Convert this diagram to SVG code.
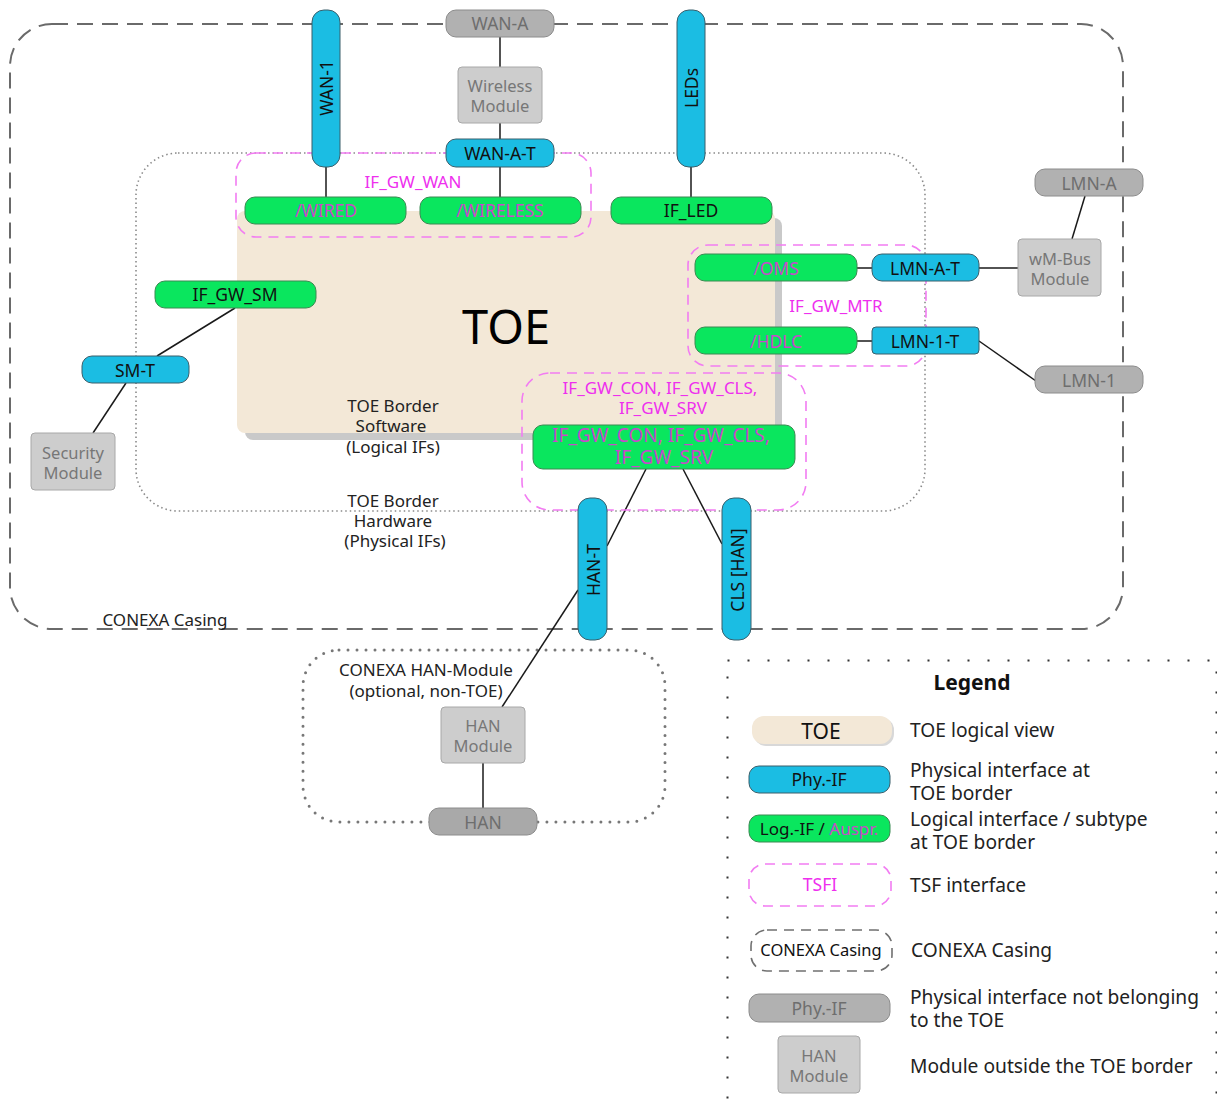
<svg xmlns="http://www.w3.org/2000/svg" width="1217" height="1111" viewBox="0 0 1217 1111">
<style>
text{font-family:"Noto Sans","Open Sans","DejaVu Sans",sans-serif;}
.t{font-size:17.5px;fill:#111;text-anchor:middle;dominant-baseline:central;}
.m{font-size:16.5px;fill:#777;text-anchor:middle;dominant-baseline:central;}
.tl{font-size:19.2px;fill:#222;dominant-baseline:central;}
.lbl{font-size:17px;fill:#222;text-anchor:middle;dominant-baseline:central;}
.mg{fill:#ee2fee;}
.mgg{fill:#c948cc;}
.gt{fill:#6e6e6e;}
.phy{fill:#1bbde3;stroke:#3b5f6b;stroke-width:1;}
.log{fill:#0ae65e;stroke:#3a8a52;stroke-width:1;}
.ext{fill:#b1b1b1;stroke:#8c8c8c;stroke-width:1;}
.mod{fill:#cdcdcd;stroke:#a8a8a8;stroke-width:1;}
.tsfi{fill:none;stroke:#f27cf2;stroke-width:1.6;stroke-dasharray:10,7;}
.case{fill:none;stroke:#6a6a6a;stroke-width:2;stroke-dasharray:16,9;}
.conn line{stroke:#1a1a1a;stroke-width:1.5;}
</style>

<!-- casing -->
<g id="casing">
<rect x="10" y="24" width="1113" height="605" rx="42" class="case"/>
<text x="165" y="619" class="lbl">CONEXA Casing</text>
</g>

<!-- TOE border -->
<g id="toe-border">
<rect x="136" y="153" width="789" height="358" rx="42" fill="none" stroke="#8a8a8a" stroke-width="1.6" stroke-dasharray="1.5,3"/>
</g>

<!-- TOE -->
<g id="toe">
<rect x="245" y="218" width="537" height="222" rx="8" fill="#c9c9c9"/>
<rect x="237" y="211" width="538" height="222" rx="8" fill="#f3e8d7"/>
<text x="506" y="326" class="t" style="font-size:47px;fill:#000">TOE</text>
</g>

<g id="toe-border-labels">
<text x="393" y="405" class="lbl">TOE Border</text>
<text x="391" y="425" class="lbl">Software</text>
<text x="393" y="446" class="lbl">(Logical IFs)</text>
<text x="393" y="500" class="lbl">TOE Border</text>
<text x="393" y="520" class="lbl">Hardware</text>
<text x="395" y="540" class="lbl">(Physical IFs)</text>
</g>

<!-- HAN module container -->
<g id="han-container">
<rect x="303" y="650" width="362" height="172" rx="36" fill="none" stroke="#777" stroke-width="3" stroke-linecap="round" stroke-dasharray="0,9"/>
<text x="426" y="669" class="lbl">CONEXA HAN-Module</text>
<text x="426" y="690" class="lbl">(optional, non-TOE)</text>
</g>

<!-- connectors -->
<g id="connectors" class="conn">
<line x1="500" y1="37" x2="500" y2="67"/>
<line x1="500" y1="123" x2="500" y2="139"/>
<line x1="500" y1="167" x2="500" y2="197"/>
<line x1="326" y1="167" x2="326" y2="197"/>
<line x1="691" y1="167" x2="691" y2="197"/>
<line x1="235" y1="308" x2="157" y2="356"/>
<line x1="126" y1="383" x2="93" y2="433"/>
<line x1="857" y1="268" x2="872" y2="268"/>
<line x1="979" y1="268" x2="1019" y2="268"/>
<line x1="1072" y1="239" x2="1085" y2="196"/>
<line x1="857" y1="341" x2="872" y2="341"/>
<line x1="979" y1="341" x2="1036" y2="381"/>
<line x1="646" y1="469" x2="607" y2="546"/>
<line x1="578" y1="590" x2="502" y2="707"/>
<line x1="683" y1="469" x2="722" y2="544"/>
<line x1="483" y1="763" x2="483" y2="808"/>
</g>

<!-- TSFI groups -->
<g id="if-gw-wan">
<rect x="236" y="153" width="355" height="84" rx="20" class="tsfi"/>
<text x="413" y="181" class="lbl mg">IF_GW_WAN</text>
</g>
<g id="if-gw-mtr">
<rect x="688" y="245" width="238" height="121" rx="20" class="tsfi"/>
<text x="836" y="305" class="lbl mg">IF_GW_MTR</text>
</g>
<g id="if-gw-con">
<rect x="522" y="373" width="284" height="137" rx="28" class="tsfi"/>
<text x="660" y="387" class="lbl mg">IF_GW_CON, IF_GW_CLS,</text>
<text x="663" y="407" class="lbl mg">IF_GW_SRV</text>
</g>

<!-- nodes -->
<g id="wan-1"><rect x="312" y="10" width="28" height="157" rx="12" class="phy"/><text class="t" transform="translate(326,88) rotate(-90)">WAN-1</text></g>
<g id="leds"><rect x="677" y="10" width="28" height="157" rx="12" class="phy"/><text class="t" transform="translate(691,88) rotate(-90)">LEDs</text></g>
<g id="wan-a"><rect x="446" y="10" width="108" height="27" rx="10" class="ext"/><text x="500" y="23" class="t gt">WAN-A</text></g>
<g id="wireless-module"><rect x="458" y="67" width="84" height="56" rx="4" class="mod"/><text x="500" y="85" class="m">Wireless</text><text x="500" y="105" class="m">Module</text></g>
<g id="wan-a-t"><rect x="446" y="139" width="108" height="28" rx="10" class="phy"/><text x="500" y="153" class="t">WAN-A-T</text></g>
<g id="wired"><rect x="245" y="197" width="161" height="27" rx="10" class="log"/><text x="326" y="210" class="t mgg">/WIRED</text></g>
<g id="wireless"><rect x="420" y="197" width="161" height="27" rx="10" class="log"/><text x="500" y="210" class="t mgg">/WIRELESS</text></g>
<g id="if-led"><rect x="611" y="197" width="161" height="27" rx="10" class="log"/><text x="691" y="210" class="t">IF_LED</text></g>
<g id="if-gw-sm"><rect x="155" y="281" width="161" height="27" rx="10" class="log"/><text x="235" y="294" class="t">IF_GW_SM</text></g>
<g id="sm-t"><rect x="82" y="356" width="107" height="27" rx="10" class="phy"/><text x="135" y="370" class="t">SM-T</text></g>
<g id="security-module"><rect x="31" y="433" width="84" height="57" rx="4" class="mod"/><text x="73" y="452" class="m">Security</text><text x="73" y="472" class="m">Module</text></g>
<g id="oms"><rect x="695" y="254" width="162" height="27" rx="10" class="log"/><text x="776" y="268" class="t mgg">/OMS</text></g>
<g id="lmn-a-t"><rect x="872" y="254" width="107" height="27" rx="10" class="phy"/><text x="925" y="268" class="t">LMN-A-T</text></g>
<g id="hdlc"><rect x="695" y="327" width="162" height="27" rx="10" class="log"/><text x="776" y="341" class="t mgg">/HDLC</text></g>
<g id="lmn-1-t"><rect x="872" y="327" width="107" height="27" rx="4" class="phy"/><text x="925" y="341" class="t">LMN-1-T</text></g>
<g id="wm-bus-module"><rect x="1018" y="239" width="83" height="57" rx="4" class="mod"/><text x="1060" y="258" class="m">wM-Bus</text><text x="1060" y="278" class="m">Module</text></g>
<g id="lmn-a"><rect x="1035" y="169" width="108" height="27" rx="10" class="ext"/><text x="1089" y="183" class="t gt">LMN-A</text></g>
<g id="lmn-1"><rect x="1035" y="366" width="108" height="27" rx="10" class="ext"/><text x="1089" y="380" class="t gt">LMN-1</text></g>
<g id="if-gw-con-node"><rect x="533" y="425" width="262" height="44" rx="10" class="log"/><text x="661" y="435" class="t mgg" style="font-size:19px">IF_GW_CON, IF_GW_CLS,</text><text x="664" y="457" class="t mgg" style="font-size:19px">IF_GW_SRV</text></g>
<g id="han-t"><rect x="578" y="498" width="29" height="142" rx="12" class="phy"/><text class="t" transform="translate(593,570) rotate(-90)">HAN-T</text></g>
<g id="cls-han"><rect x="722" y="498" width="29" height="142" rx="12" class="phy"/><text class="t" transform="translate(737,570) rotate(-90)">CLS [HAN]</text></g>
<g id="han-module"><rect x="441" y="707" width="84" height="56" rx="4" class="mod"/><text x="483" y="725" class="m">HAN</text><text x="483" y="745" class="m">Module</text></g>
<g id="han"><rect x="429" y="808" width="108" height="27" rx="10" fill="#a9a9a9" stroke="#8c8c8c"/><text x="483" y="822" class="t gt">HAN</text></g>

<!-- legend -->
<g id="legend">
<rect x="727.5" y="660.5" width="489" height="480" fill="none" stroke="#333" stroke-width="2" stroke-dasharray="2,18"/>
<text x="972" y="682" class="t" style="font-size:21px;font-weight:bold;fill:#111">Legend</text>
<rect x="754" y="718" width="140" height="28" rx="12" fill="#d8d8d8"/>
<rect x="752" y="716" width="140" height="28" rx="12" fill="#f3e8d7"/>
<text x="821" y="731" class="t" style="font-size:21px">TOE</text>
<text x="910" y="729" class="tl">TOE logical view</text>
<rect x="749" y="766" width="141" height="27" rx="10" class="phy"/>
<text x="819" y="779" class="t">Phy.-IF</text>
<text x="910" y="769" class="tl">Physical interface at</text>
<text x="910" y="792" class="tl">TOE border</text>
<rect x="749" y="815" width="141" height="27" rx="10" class="log"/>
<text x="819" y="828" class="t" style="font-size:17px">Log.-IF / <tspan class="mgg">Auspr.</tspan></text>
<text x="910" y="818" class="tl">Logical interface / subtype</text>
<text x="910" y="841" class="tl">at TOE border</text>
<rect x="749" y="864" width="142" height="42" rx="16" class="tsfi"/>
<text x="820" y="884" class="t mg">TSFI</text>
<text x="910" y="884" class="tl">TSF interface</text>
<rect x="751" y="930" width="141" height="41" rx="16" fill="none" stroke="#707070" stroke-width="1.6" stroke-dasharray="10,7"/>
<text x="821" y="949" class="t" style="font-size:16.5px">CONEXA Casing</text>
<text x="911" y="949" class="tl">CONEXA Casing</text>
<rect x="749" y="994" width="141" height="28" rx="10" class="ext"/>
<text x="819" y="1008" class="t gt">Phy.-IF</text>
<text x="910" y="996" class="tl">Physical interface not belonging</text>
<text x="910" y="1019" class="tl">to the TOE</text>
<rect x="778" y="1036" width="82" height="57" rx="4" class="mod"/>
<text x="819" y="1055" class="m">HAN</text>
<text x="819" y="1075" class="m">Module</text>
<text x="910" y="1065" class="tl">Module outside the TOE border</text>
</g>
</svg>
